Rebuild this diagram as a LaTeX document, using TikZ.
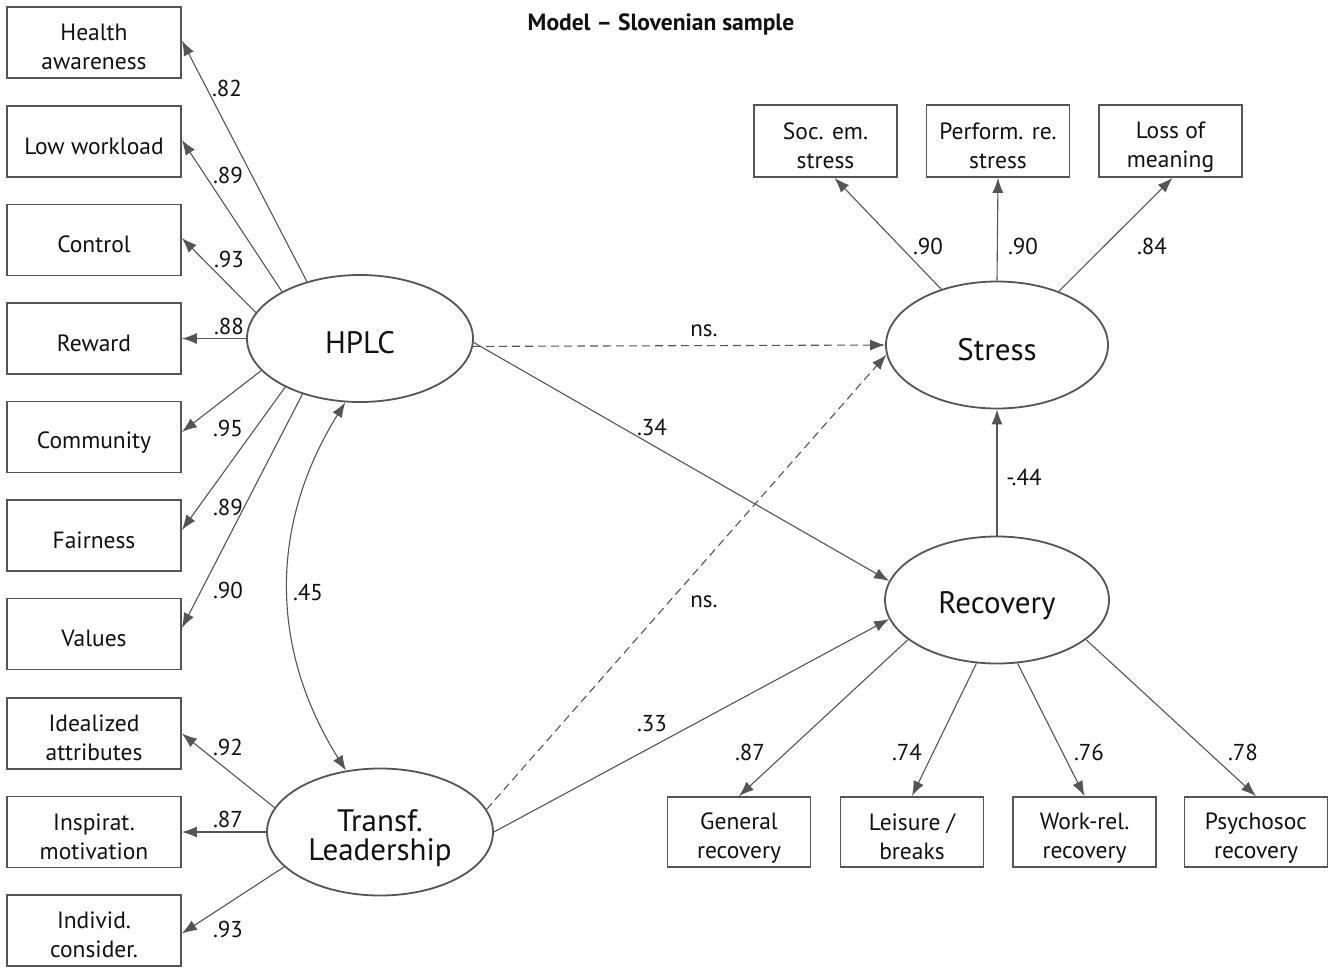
\documentclass[tikz,border=0pt]{standalone}
\usepackage{fontspec}
\setmainfont{PT Sans}
\usetikzlibrary{shapes.geometric,arrows.meta}
\definecolor{edgec}{HTML}{555555}
\definecolor{linec}{HTML}{555555}
\definecolor{txt}{HTML}{111111}
\newcommand\sTop{\rule{0pt}{28pt}}
\newcommand\sBot{\rule[-2.6pt]{0pt}{0pt}}
\newcommand\eTop{\rule{0pt}{34pt}}
\newcommand\eBot{\rule[-3.6pt]{0pt}{0pt}}
\begin{document}
\begin{tikzpicture}[x=1pt,y=-1pt,
  box/.style={draw=edgec, line width=1.8pt, minimum width=174pt, minimum height=71pt, align=center, text=txt, font=\fontsize{23.5}{29}\selectfont, inner sep=0pt},
  sbox/.style={box, minimum width=143pt, minimum height=72pt},
  lat/.style={ellipse, draw=edgec, line width=1.8pt, minimum width=226pt, minimum height=127pt, inner sep=0pt, text=txt, font=\fontsize{31}{29}\selectfont, align=center},
  arr/.style={draw=linec, line width=1.1pt, -{Latex[length=15pt,width=11pt]}},
  nsarr/.style={arr, dash pattern=on 8pt off 5pt},
  lbl/.style={font=\fontsize{23}{26}\selectfont, text=txt, inner sep=0pt}]
\useasboundingbox (0,0) rectangle (1328,967);
\fill[white] (0,0) rectangle (1328,967);
% title
\node[font=\bfseries\fontsize{23.5}{26}\selectfont, text=txt] (title) at (661,24) {Model -- Slovenian sample};
% latent variables
\node[lat] (hplc) at (360,338.5) {\eTop HPLC\eBot};
\node[lat] (tl) at (380,832) {\eTop Transf.\\Leadership\eBot};
\node[lat, minimum width=222pt] (stress) at (997,345) {\eTop Stress\eBot};
\node[lat, minimum width=224pt] (rec) at (997,600) {\eTop Recovery\eBot};
% left boxes
\node[box] (ha) at (94,42.5) {\sTop Health\\awareness\sBot};
\node[box] (lw) at (94,141.5) {\sTop Low workload\sBot};
\node[box] (co) at (94,240) {\sTop Control\sBot};
\node[box] (re) at (94,338.5) {\sTop Reward\sBot};
\node[box] (cm) at (94,437) {\sTop Community\sBot};
\node[box] (fa) at (94,535.5) {\sTop Fairness\sBot};
\node[box] (va) at (94,634) {\sTop Values\sBot};
\node[box] (id) at (94,733.5) {\sTop Idealized\\attributes\sBot};
\node[box] (in) at (94,832) {\sTop Inspirat.\\motivation\sBot};
\node[box] (ic) at (94,930.5) {\sTop Individ.\\consider.\sBot};
% stress boxes
\node[sbox] (soc) at (825.5,141) {\sTop Soc. em.\\stress\sBot};
\node[sbox] (per) at (998,141) {\sTop Perform. re.\\stress\sBot};
\node[sbox] (los) at (1170.5,141) {\sTop Loss of\\meaning\sBot};
% recovery boxes
\node[sbox, minimum height=70pt] (gen) at (739,832) {\sTop General\\recovery\sBot};
\node[sbox, minimum height=70pt] (lei) at (912,832) {\sTop Leisure /\\breaks\sBot};
\node[sbox, minimum height=70pt] (wor) at (1084.5,832) {\sTop Work-rel.\\recovery\sBot};
\node[sbox, minimum height=70pt] (psy) at (1256,832) {\sTop Psychosoc\\recovery\sBot};
% HPLC loadings
\draw[arr] (hplc.133) -- ([yshift=2pt]ha.east);
\draw[arr] (hplc.149) -- ([yshift=1.5pt]lw.east);
\draw[arr] (hplc.166) -- ([yshift=2pt]co.east);
\draw[arr] (hplc.180) -- (re.east);
\draw[arr] (hplc.198) -- ([yshift=5pt]cm.east);
\draw[arr] (hplc.213) -- ([yshift=5.5pt]fa.east);
\draw[arr] (hplc.224) -- ([yshift=6pt]va.east);
% TL loadings
\draw[arr] (tl.167) -- (id.east);
\draw[arr] (tl.180) -- (in.east);
\draw[arr] (tl.200) -- ([yshift=-3pt]ic.east);
% stress loadings
\draw[arr] (stress.135) -- ([xshift=9pt]soc.south);
\draw[arr] (stress.north) -- (per.south);
\draw[arr] (stress.41) -- ([xshift=2pt]los.south);
% recovery loadings
\draw[arr] (rec.204) -- (gen.north);
\draw[arr] (rec.252) -- (lei.north);
\draw[arr] (rec.288) -- (wor.north);
\draw[arr] (rec.336.5) -- (psy.north);
% structural paths
\draw[nsarr] (hplc.356) -- (stress.180);
\draw[arr] (hplc.358) -- (rec.170.5);
\draw[nsarr] (tl.12) -- (stress.185);
\draw[arr] (tl.0) -- (rec.190.5);
\draw[arr] (rec.north) -- (stress.south);
\draw[draw=linec, line width=1.1pt, {Latex[length=15pt,width=11pt]}-{Latex[length=15pt,width=11pt]}] (hplc.257) to[bend right=32] (tl.119);
% labels
\node[lbl] (l1) at (227,88) {.82};
\node[lbl] (l2) at (228,175) {.89};
\node[lbl] (l3) at (229,259) {.93};
\node[lbl] (l4) at (229,326) {.88};
\node[lbl] (l5) at (228,428) {.95};
\node[lbl] (l6) at (228,507) {.89};
\node[lbl] (l7) at (228,590) {.90};
\node[lbl] (l8) at (308,592) {.45};
\node[lbl] (l9) at (228,747) {.92};
\node[lbl] (l10) at (228,819) {.87};
\node[lbl] (l11) at (228,929) {.93};
\node[lbl] (l12) at (704,331) {ns.};
\node[lbl] (l13) at (652,427) {.34};
\node[lbl] (l14) at (704,602) {ns.};
\node[lbl] (l15) at (652,724) {.33};
\node[lbl] (l16) at (1024,477) {-.44};
\node[lbl] (l17) at (928,246) {.90};
\node[lbl] (l18) at (1023,246) {.90};
\node[lbl] (l19) at (1152,246) {.84};
\node[lbl] (l20) at (750,752) {.87};
\node[lbl] (l21) at (907,752) {.74};
\node[lbl] (l22) at (1089,752) {.76};
\node[lbl] (l23) at (1243,752) {.78};
\end{tikzpicture}
\end{document}
